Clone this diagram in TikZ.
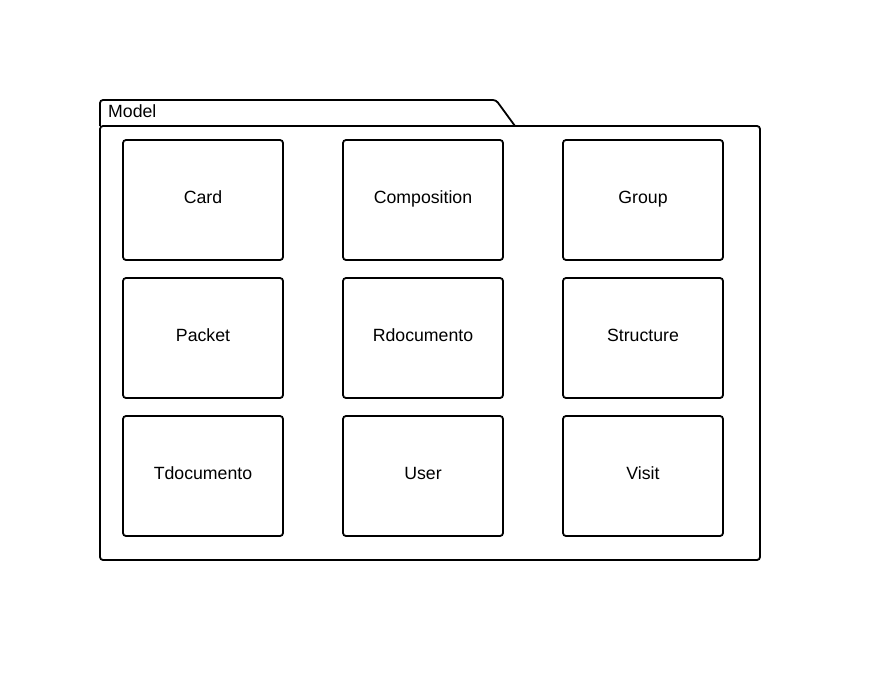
\documentclass[tikz,border=0pt]{standalone}
\usepackage{fontspec}
\setmainfont{Liberation Sans}
\usepackage{tikz}
\usetikzlibrary{positioning}

\tikzset{
  classbox/.style={draw, line width=1.8pt, rounded corners=3pt, minimum width=160pt, minimum height=120pt,
    inner sep=0pt, font=\fontsize{17.7}{20}\selectfont, text height=0.72em, text depth=0pt}
}

\begin{document}
\begin{tikzpicture}[x=1pt, y=-1pt]
        \useasboundingbox (0,0) rectangle (876,680);

        % Package tab
        \draw[line width=1.8pt, rounded corners=3pt] (100,126) -- (100,100) -- (496,100) -- (515,126);
        \node[anchor=base west, inner sep=0pt, font=\fontsize{17.7}{20}\selectfont] (modellabel) at (108,117) {Model};

        % Package body
        \draw[line width=1.8pt, rounded corners=3pt] (100,126) rectangle (760,560);

        % First row
        \node[classbox] (card) at (203,200) {Card};
        \node[classbox] (composition) at (423,200) {Composition};
        \node[classbox] (group) at (643,200) {Group};

        % Second row
        \node[classbox] (packet) at (203,338) {Packet};
        \node[classbox] (rdocumento) at (423,338) {Rdocumento};
        \node[classbox] (structure) at (643,338) {Structure};

        % Third row
        \node[classbox] (tdocumento) at (203,476) {Tdocumento};
        \node[classbox] (user) at (423,476) {User};
        \node[classbox] (visit) at (643,476) {Visit};
    \end{tikzpicture}
\end{document}
